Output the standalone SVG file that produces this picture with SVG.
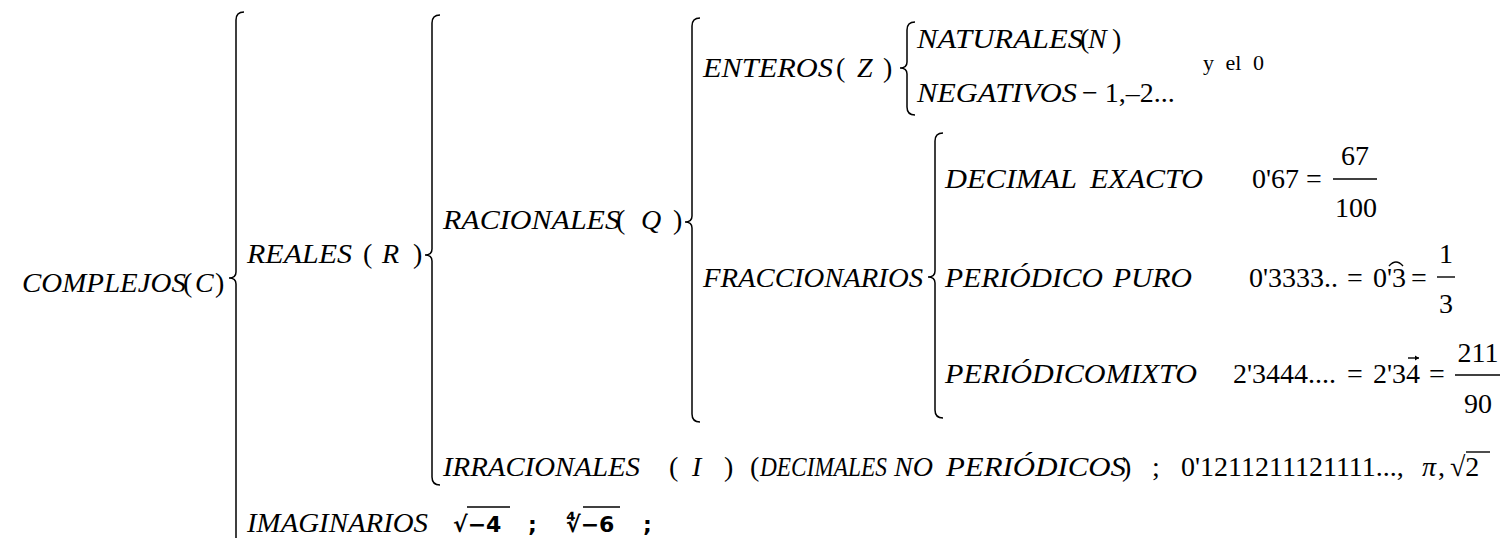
<svg xmlns="http://www.w3.org/2000/svg" width="1503" height="538" viewBox="0 0 1503 538">
<style>
.i{font-family:"Liberation Serif","Times New Roman",serif;font-style:italic;font-size:28px;fill:#000}
.r{font-family:"Liberation Serif","Times New Roman",serif;font-size:28px;fill:#000}
.s{font-family:"Liberation Serif","Times New Roman",serif;font-size:22px;fill:#000}
.rad{font-family:"DejaVu Sans",sans-serif;font-size:22px;font-weight:bold;fill:#000}
.br{fill:none;stroke:#000;stroke-width:1.5}
.ln{stroke:#000;stroke-width:1.4}
</style>
<rect width="1503" height="538" fill="#fff"/>
<g id="connectors">
<path class="br" d="M244,12 Q236,12 236,20 L236,272 Q236,278 229,278 Q236,278 236,284 L236,560"/>
<path class="br" d="M440,15 Q432,15 432,23 L432,249 Q432,255 425,255 Q432,255 432,261 L432,477 Q432,485 440,485"/>
<path class="br" d="M700,18 Q692,18 692,26 L692,216 Q692,222 685,222 Q692,222 692,228 L692,414 Q692,422 700,422"/>
<path class="br" d="M915,22 Q907,22 907,30 L907,62 Q907,68 900,68 Q907,68 907,74 L907,107 Q907,115 915,115"/>
<path class="br" d="M943,133 Q935,133 935,141 L935,271 Q935,277 928,277 Q935,277 935,283 L935,410 Q935,418 943,418"/>
</g>
<g id="complejos">
<text class="i" x="22" y="292" textLength="164" lengthAdjust="spacingAndGlyphs">COMPLEJOS</text>
<text class="r" x="183" y="292">(</text><text class="i" x="195" y="292">C</text><text class="r" x="215" y="292">)</text>
</g>
<g id="reales">
<text class="i" x="247" y="263" textLength="105" lengthAdjust="spacingAndGlyphs">REALES</text>
<text class="r" x="363" y="263">(</text><text class="i" x="382" y="263">R</text><text class="r" x="413" y="263">)</text>
</g>
<g id="racionales">
<text class="i" x="443" y="229" textLength="177" lengthAdjust="spacingAndGlyphs">RACIONALES</text>
<text class="r" x="616" y="229">(</text><text class="i" x="641" y="229">Q</text><text class="r" x="673" y="229">)</text>
</g>
<g id="enteros">
<text class="i" x="703" y="77" textLength="130" lengthAdjust="spacingAndGlyphs">ENTEROS</text>
<text class="r" x="836" y="77">(</text><text class="i" x="857" y="77">Z</text><text class="r" x="883" y="77">)</text>
</g>
<g id="naturales">
<text class="i" x="917" y="48" textLength="166" lengthAdjust="spacingAndGlyphs">NATURALES</text>
<text class="r" x="1080" y="48">(</text><text class="i" x="1088" y="48">N</text><text class="r" x="1112" y="48">)</text>
</g>
<g id="negativos">
<text class="i" x="917" y="102" textLength="160" lengthAdjust="spacingAndGlyphs">NEGATIVOS</text>
<text class="r" x="1082" y="102">− 1,–2...</text>
</g>
<g id="cero">
<text class="s" x="1203" y="70" word-spacing="6">y el 0</text>
</g>
<g id="fraccionarios">
<text class="i" x="703" y="287" textLength="220" lengthAdjust="spacingAndGlyphs">FRACCIONARIOS</text>
</g>
<g id="decimal-exacto">
<text class="i" x="945" y="188" textLength="132" lengthAdjust="spacingAndGlyphs">DECIMAL</text>
<text class="i" x="1090" y="188" textLength="113" lengthAdjust="spacingAndGlyphs">EXACTO</text>
<text class="r" x="1252" y="188">0'67</text>
<text class="r" x="1306" y="188">=</text>
<line class="ln" x1="1333" y1="179" x2="1377" y2="179"/>
<text class="r" x="1355" y="165" text-anchor="middle">67</text>
<text class="r" x="1356" y="217" text-anchor="middle">100</text>
</g>
<g id="periodico-puro">
<text class="i" x="945" y="287" textLength="158" lengthAdjust="spacingAndGlyphs">PERIÓDICO</text>
<text class="i" x="1113" y="287" textLength="79" lengthAdjust="spacingAndGlyphs">PURO</text>
<text class="r" x="1249" y="287">0'3333..</text>
<text class="r" x="1347" y="287">=</text>
<text class="r" x="1373" y="287">0'3</text>
<path class="ln" fill="none" d="M1389,266 Q1396,258 1403,266"/>
<text class="r" x="1411" y="287">=</text>
<line class="ln" x1="1437" y1="277" x2="1455" y2="277"/>
<text class="r" x="1446" y="263" text-anchor="middle">1</text>
<text class="r" x="1446" y="313" text-anchor="middle">3</text>
</g>
<g id="periodico-mixto">
<text class="i" x="945" y="383" textLength="252" lengthAdjust="spacingAndGlyphs">PERIÓDICOMIXTO</text>
<text class="r" x="1233" y="383">2'3444....</text>
<text class="r" x="1347" y="383">=</text>
<text class="r" x="1373" y="383">2'34</text>
<line class="ln" x1="1408" y1="358" x2="1419" y2="358"/>
<path d="M1419,358 l-4,-2.5 l0,5 z"/>
<text class="r" x="1429" y="383">=</text>
<line class="ln" x1="1455" y1="375" x2="1500" y2="375"/>
<text class="r" x="1478" y="362" text-anchor="middle">211</text>
<text class="r" x="1478" y="413" text-anchor="middle">90</text>
</g>
<g id="irracionales">
<text class="i" x="443" y="476" textLength="197" lengthAdjust="spacingAndGlyphs">IRRACIONALES</text>
<text class="r" x="669" y="476">(</text><text class="i" x="692" y="476">I</text><text class="r" x="724" y="476">)</text>
<text class="r" x="750" y="476">(</text>
<text class="i" x="760" y="476" textLength="127" lengthAdjust="spacingAndGlyphs">DECIMALES</text>
<text class="i" x="894" y="476">NO</text>
<text class="i" x="946" y="476" textLength="180" lengthAdjust="spacingAndGlyphs">PERIÓDICOS</text>
<text class="r" x="1122" y="476">)</text>
<text class="r" x="1152" y="476">;</text>
<text class="r" x="1181" y="476">0'1211211121111...,</text>
<text class="i" x="1422" y="476">π</text>
<text class="r" x="1438" y="476">,</text>
<text class="r" x="1450" y="476">√2</text>
<line class="ln" x1="1466" y1="452" x2="1490" y2="452"/>
</g>
<g id="imaginarios">
<text class="i" x="247" y="532" textLength="181" lengthAdjust="spacingAndGlyphs">IMAGINARIOS</text>
<text class="rad" x="453" y="532">√−4</text>
<line class="ln" x1="467" y1="507" x2="510" y2="507"/>
<text class="rad" x="528" y="532">;</text>
<text class="rad" x="566" y="532">∜−6</text>
<line class="ln" x1="583" y1="507" x2="620" y2="507"/>
<text class="rad" x="643" y="532">;</text>
</g>
</svg>
